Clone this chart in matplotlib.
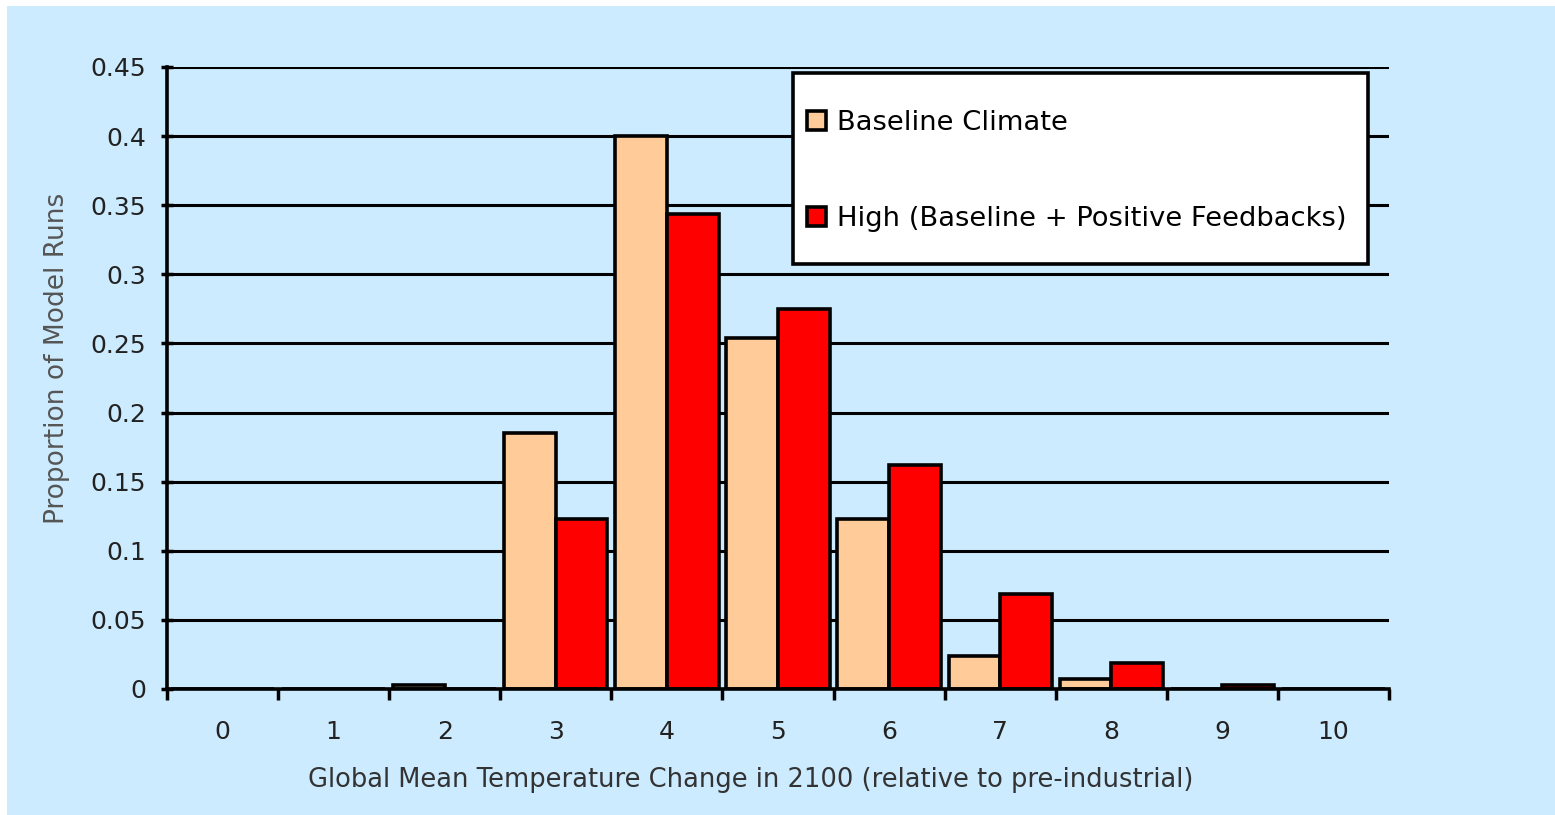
import matplotlib
matplotlib.use("Agg")
import matplotlib.pyplot as plt
import numpy as np
from matplotlib.patches import Rectangle

categories = ["0", "1", "2", "3", "4", "5", "6", "7", "8", "9", "10"]
baseline = [0, 0, 0.003, 0.185, 0.400, 0.254, 0.123, 0.024, 0.007, 0, 0]
high = [0, 0, 0, 0.123, 0.344, 0.275, 0.162, 0.069, 0.019, 0.003, 0]
yticks = [0, 0.05, 0.1, 0.15, 0.2, 0.25, 0.3, 0.35, 0.4, 0.45]
ytick_labels = ["0", "0.05", "0.1", "0.15", "0.2", "0.25", "0.3", "0.35", "0.4", "0.45"]

plt.rcParams['font.family'] = ['DejaVu Sans']

bg = "#CCEBFF"
W, H = 1555, 815
fig = plt.figure(figsize=(W / 100, H / 100), dpi=100, facecolor="white")
fig.patches.append(Rectangle((7 / W, 0), 1 - 7 / W, 1 - 6 / H, transform=fig.transFigure,
                             facecolor=bg, edgecolor="none", zorder=-5))

left, right, top, bottom = 167, 1389, 67, 689
ax = fig.add_axes([left / W, 1 - bottom / H, (right - left) / W, (bottom - top) / H])
ax.set_facecolor(bg)

def px2ax(px, py):
    return ((px - left) / (right - left), (bottom - py) / (bottom - top))

x = np.arange(len(categories))
bw = 0.465
ax.bar(x - bw / 2, baseline, width=bw, color="#FFCC99", edgecolor="black", linewidth=2.6,
       label="Baseline Climate", zorder=3)
ax.bar(x + bw / 2, high, width=bw, color="#FF0000", edgecolor="black", linewidth=2.6,
       label="High (Baseline + Positive Feedbacks)", zorder=3)

ax.set_xlim(-0.5, len(categories) - 0.5)
ax.set_ylim(0, 0.45)
ax.set_yticks(yticks)
ax.set_yticklabels(ytick_labels)
ax.set_xticks(np.arange(-0.5, len(categories), 1))
ax.set_xticklabels([])
ax.set_xticks(x, minor=True)
ax.set_xticklabels(categories, minor=True)
ax.tick_params(axis="x", which="minor", length=0, pad=22, labelsize=18, colors="#222222")
ax.tick_params(axis="x", which="major", length=8, width=2.5, direction="out", color="black")
ax.tick_params(axis="y", length=8, width=2.5, direction="inout", labelsize=18, colors="black",
               labelcolor="#222222", pad=11)

ax.grid(axis="y", color="black", linewidth=2.2, zorder=1)
for s in ["top", "right"]:
    ax.spines[s].set_visible(False)
for s in ["left", "bottom"]:
    ax.spines[s].set_linewidth(2.6)
    ax.spines[s].set_zorder(4)

ax.set_xlabel("Global Mean Temperature Change in 2100 (relative to pre-industrial)",
              fontsize=18.5, color="#333333")
ax.xaxis.set_label_coords(*px2ax(751, 780))
ax.xaxis.label.set_va("center")
ax.set_ylabel("Proportion of Model Runs", fontsize=19, color="#555555")
ax.yaxis.set_label_coords(*px2ax(57, 358))
ax.yaxis.label.set_va("center")

# legend frame
fx0, fy0 = px2ax(793, 264)
fx1, fy1 = px2ax(1368, 73)
ax.add_patch(Rectangle((fx0, fy0), fx1 - fx0, fy1 - fy0, transform=ax.transAxes,
                       facecolor="white", edgecolor="black", linewidth=2.6, zorder=5,
                       clip_on=False))
leg = ax.legend(loc="upper left", bbox_to_anchor=px2ax(807, 110), fontsize=19.7, frameon=False,
                handlelength=0.7, handleheight=0.7, handletextpad=0.4,
                labelspacing=2.56, borderpad=0, borderaxespad=0)
leg.set_zorder(6)

fig.savefig("out.png", dpi=100, facecolor="white")
